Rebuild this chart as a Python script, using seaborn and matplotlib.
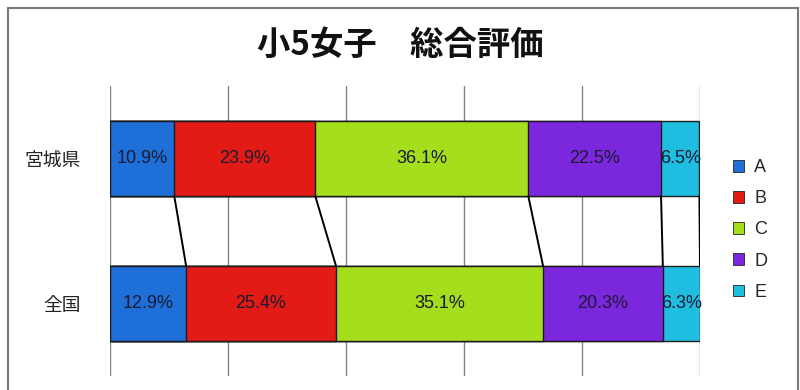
import matplotlib
matplotlib.use("Agg")
import matplotlib.pyplot as plt
import matplotlib.patches as mpatches
import seaborn as sns
import pandas as pd
import numpy as np

title = "小5女子　総合評価"
regions = ["宮城県", "全国"]
grades = ["A", "B", "C", "D", "E"]
vals_miyagi = [10.9, 23.9, 36.1, 22.5, 6.5]
vals_zenkoku = [12.9, 25.4, 35.1, 20.3, 6.3]
colors = ["#1f6fd8", "#e21b17", "#a5de1c", "#7b27de", "#1fbde0"]

sns.set_theme(style="white")
plt.rcParams['font.family'] = ['Noto Sans CJK JP', 'DejaVu Sans']

fig = plt.figure(figsize=(8, 3.9), dpi=100)
ax = fig.add_axes([110/800, 1-376/390, 590/800, 290/390])

rows = []
for r, vals in zip(regions, [vals_miyagi, vals_zenkoku]):
    cum = np.cumsum(vals)
    for g, v, c in zip(grades, vals, cum):
        rows.append({"region": r, "grade": g, "value": v, "cum": c})
df = pd.DataFrame(rows)

# draw layered cumulative bars, largest first
for g, col in reversed(list(zip(grades, colors))):
    sub = df[df["grade"] == g]
    sns.barplot(data=sub, x="cum", y="region", order=regions, color=col,
                width=0.52, edgecolor="#1a1a1a", linewidth=1.0, ax=ax,
                saturation=1, zorder=3)

# labels
for i, r in enumerate(regions):
    sub = df[df["region"] == r]
    left = 0
    for _, row in sub.iterrows():
        ax.text(left + row["value"]/2, i, f"{row['value']:.1f}%",
                ha="center", va="center", fontsize=13, color="#1a1a30",
                family=["Liberation Sans", "DejaVu Sans"], zorder=5)
        left += row["value"]

# series lines connecting boundaries
cm = np.cumsum(vals_miyagi)
cz = np.cumsum(vals_zenkoku)
for a, b in zip(cm, cz):
    ax.plot([a, b], [0 + 0.26, 1 - 0.26], color="black", lw=1.4, zorder=4)

ax.set_xlim(0, 100)
ax.set_ylim(1.5, -0.5)
ax.set_xticks([0, 20, 40, 60, 80, 100])
ax.set_xticklabels([])
ax.xaxis.grid(True, color="#858585", lw=1.0, zorder=0)
ax.set_axisbelow(True)
ax.set_xlabel("")
ax.set_ylabel("")
ax.tick_params(axis="y", length=0, pad=21, labelsize=13.5, labelcolor="#222222")
ax.tick_params(axis="x", length=0)
for s in ax.spines.values():
    s.set_visible(False)

fig.text(0.5, 1-45/390, title, ha="center", va="center", fontsize=24,
         fontweight="bold", color="#111111")

handles = [mpatches.Patch(facecolor=c, edgecolor="#222222", lw=0.6, label=g)
           for g, c in zip(grades, colors)]
fig.legend(handles=handles, loc="center", bbox_to_anchor=(750/800, 1-230/390),
           frameon=False, handlelength=0.6, handleheight=0.6,
           handletextpad=0.6, labelspacing=0.78,
           prop={"family": ["Liberation Sans", "DejaVu Sans"], "size": 13})

# outer border
fig.patches.append(mpatches.Rectangle((8/800, -0.1), 790/800, 1.1 - 8/390,
                                      transform=fig.transFigure, fill=False,
                                      edgecolor="#7a7a7a", lw=1.5))

fig.savefig("out.png", dpi=100)
